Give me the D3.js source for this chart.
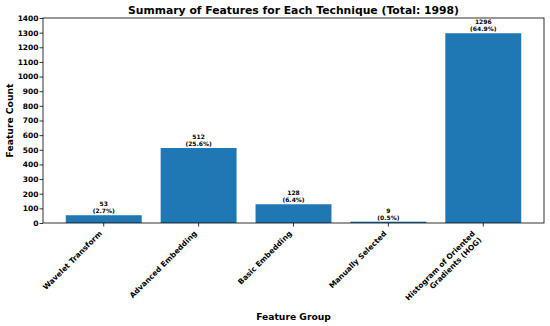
<!DOCTYPE html>
<html>
<head>
<meta charset="utf-8">
<script src="https://cdn.jsdelivr.net/npm/d3@7"></script>
<style>
  body { margin: 0; background: #fff; }
  text { font-family: "DejaVu Sans", sans-serif; }
</style>
</head>
<body>
<svg id="drawing_region"></svg>
<script>
// chart data
const groups = ["Wavelet Transform", "Advanced Embedding", "Basic Embedding", "Manually Selected", "Histogram of Oriented\nGradients (HOG)"];
const counts = [53, 512, 128, 9, 1296];
const yticks = [0, 100, 200, 300, 400, 500, 600, 700, 800, 900, 1000, 1100, 1200, 1300, 1400];
const total = d3.sum(counts);

const width = 550, height = 326;
const margin = {top: 18, right: 6, bottom: 103, left: 43};
const inner_width = width - margin.left - margin.right;
const inner_height = height - margin.top - margin.bottom;
const tick_font = 7.5;

const svg = d3.select('#drawing_region')
    .attr('width', width)
    .attr('height', height);

const chart = svg.append('g')
    .attr('transform', `translate(${margin.left}, ${margin.top})`);

const xscale = d3.scaleBand()
    .domain(groups)
    .range([0, inner_width])
    .paddingInner(0.2)
    .paddingOuter(0.24);

const yscale = d3.scaleLinear()
    .domain([0, 1400])
    .range([inner_height, 0]);

// bars
chart.selectAll('rect.bar')
    .data(groups)
    .enter()
    .append('rect')
    .attr('class', 'bar')
    .attr('x', d => xscale(d))
    .attr('y', (d, i) => yscale(counts[i]))
    .attr('width', xscale.bandwidth())
    .attr('height', (d, i) => inner_height - yscale(counts[i]))
    .attr('fill', '#1f77b4');

// value labels
const labels = chart.selectAll('text.val')
    .data(groups)
    .enter()
    .append('text')
    .attr('class', 'val')
    .attr('text-anchor', 'middle')
    .attr('font-size', '6px')
    .attr('font-weight', 'bold')
    .attr('fill', 'black');
labels.append('tspan')
    .attr('x', d => xscale(d) + xscale.bandwidth() / 2)
    .attr('y', (d, i) => yscale(counts[i]) - 9)
    .text((d, i) => counts[i]);
labels.append('tspan')
    .attr('x', d => xscale(d) + xscale.bandwidth() / 2)
    .attr('y', (d, i) => yscale(counts[i]) - 2)
    .text((d, i) => `(${(counts[i] / total * 100).toFixed(1)}%)`);

// axes
const xaxis = d3.axisBottom(xscale).tickSize(3.5).tickSizeOuter(0).tickFormat('');
const yaxis = d3.axisLeft(yscale).tickValues(yticks).tickSize(3.5).tickSizeOuter(0).tickFormat(d3.format('d'));

const xaxis_group = chart.append('g')
    .attr('transform', `translate(0, ${inner_height})`)
    .call(xaxis);
const yaxis_group = chart.append('g').call(yaxis);

[xaxis_group, yaxis_group].forEach(g => {
    g.select('.domain').remove();
    g.selectAll('.tick line').attr('stroke', 'black').attr('stroke-width', 0.8);
});
yaxis_group.selectAll('.tick text')
    .attr('x', -4.5)
    .attr('font-size', tick_font + 'px')
    .attr('font-weight', 'bold')
    .attr('fill', 'black')
    .attr('font-family', '"DejaVu Sans", sans-serif');

// rotated x tick labels, right aligned like matplotlib ha='right'
const line_h = tick_font * 1.2;
xaxis_group.selectAll('.tick')
    .append('text')
    .attr('transform', d => {
        const n = d.split('\n').length;
        return `translate(${-1.3 - 0.707 * line_h * (n - 1)}, 11) rotate(-45)`;
    })
    .attr('text-anchor', 'end')
    .attr('font-size', tick_font + 'px')
    .attr('font-weight', 'bold')
    .attr('fill', 'black')
    .each(function(d) {
        const t = d3.select(this);
        d.split('\n').forEach((ln, k) => {
            t.append('tspan')
                .attr('x', 0)
                .attr('y', k * line_h)
                .text(ln);
        });
    });

// frame
chart.append('rect')
    .attr('width', inner_width)
    .attr('height', inner_height)
    .attr('fill', 'none')
    .attr('stroke', 'black')
    .attr('stroke-width', 0.8);

// title and axis labels
svg.append('text')
    .attr('x', margin.left + inner_width / 2)
    .attr('y', 13.5)
    .attr('text-anchor', 'middle')
    .attr('font-size', '10.8px')
    .attr('font-weight', 'bold')
    .text(`Summary of Features for Each Technique (Total: ${total})`);

svg.append('text')
    .attr('x', margin.left + inner_width / 2)
    .attr('y', 320)
    .attr('text-anchor', 'middle')
    .attr('font-size', '9.2px')
    .attr('font-weight', 'bold')
    .text('Feature Group');

svg.append('text')
    .attr('transform', 'rotate(-90)')
    .attr('x', -(margin.top + inner_height / 2))
    .attr('y', 12.5)
    .attr('text-anchor', 'middle')
    .attr('font-size', '9.2px')
    .attr('font-weight', 'bold')
    .text('Feature Count');
</script>
</body>
</html>
